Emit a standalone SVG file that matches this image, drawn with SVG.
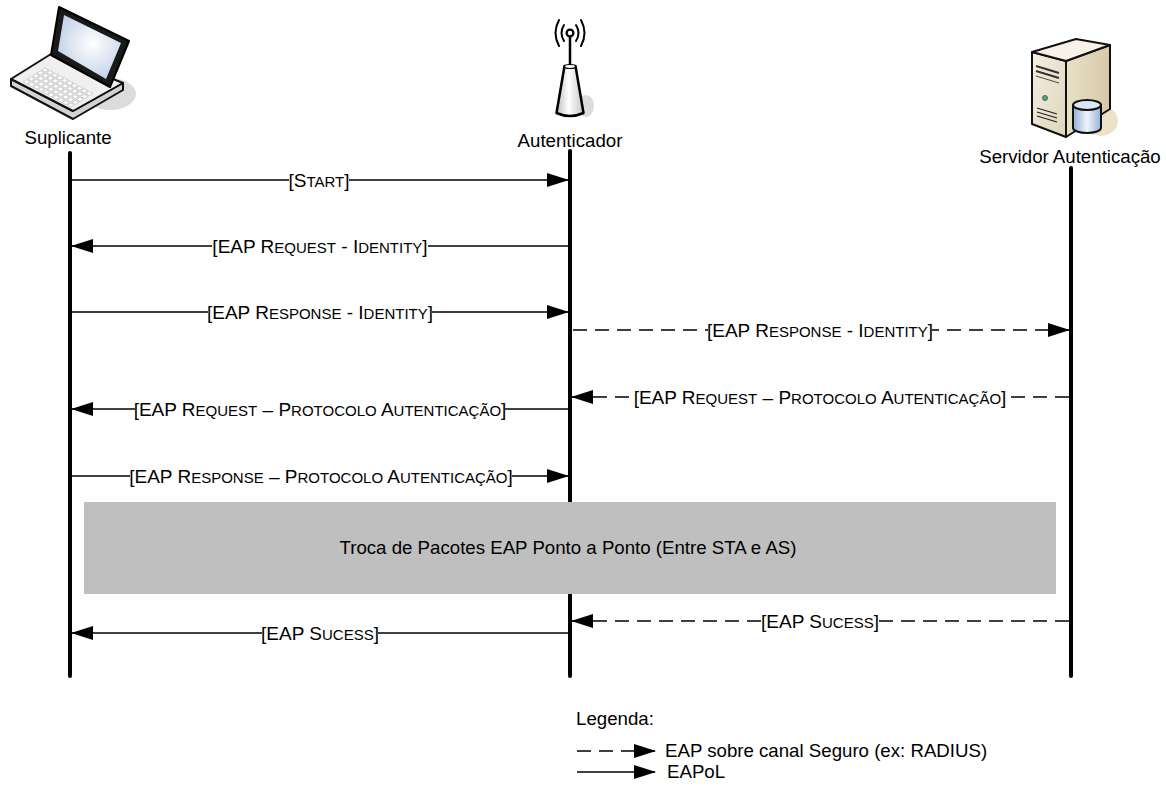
<svg xmlns="http://www.w3.org/2000/svg" width="1166" height="787" viewBox="0 0 1166 787">
  <style>
    .name { font-family: "Liberation Sans", Arial, sans-serif; font-size: 18.67px; fill: #000; }
    .lbl { font-family: "Liberation Sans", Arial, sans-serif; font-size: 19px; fill: #000; text-anchor: middle; }
    .sc { font-size: 15px; }
    .bg { fill: #fff; }
    .life { stroke: #000; stroke-width: 4; stroke-linecap: round; fill: none; }
    .msg { stroke: #000; stroke-width: 1.5; fill: none; }
    .dash { stroke-dasharray: 14 8; }
    .ink { stroke: #111; stroke-width: 2; stroke-linejoin: round; }
    .key { fill: #fff; stroke: #bdbdbd; stroke-width: 0.12; }
  </style>
  <defs>
    <marker id="head" markerUnits="userSpaceOnUse" markerWidth="22" markerHeight="14" refX="21" refY="7" orient="auto">
      <path d="M0,0 L22,7 L0,14 Z" fill="#000"/>
    </marker>
    <radialGradient id="screen" cx="0.55" cy="0.45" r="0.7">
      <stop offset="0" stop-color="#ffffff"/>
      <stop offset="1" stop-color="#b7c9e2"/>
    </radialGradient>
    <linearGradient id="cone" x1="0" y1="0" x2="1" y2="0">
      <stop offset="0" stop-color="#bdbdbd"/>
      <stop offset="0.45" stop-color="#ffffff"/>
      <stop offset="1" stop-color="#c4c4c4"/>
    </linearGradient>
    <linearGradient id="front" x1="0" y1="0" x2="1" y2="1">
      <stop offset="0" stop-color="#f4efe2"/>
      <stop offset="1" stop-color="#e0d5bb"/>
    </linearGradient>
    <linearGradient id="side" x1="0" y1="0" x2="1" y2="0">
      <stop offset="0" stop-color="#e9e0c9"/>
      <stop offset="1" stop-color="#d6c9a6"/>
    </linearGradient>
    <linearGradient id="drum" x1="0" y1="0" x2="1" y2="0">
      <stop offset="0" stop-color="#8fb0d8"/>
      <stop offset="0.5" stop-color="#eef4fb"/>
      <stop offset="1" stop-color="#93b3da"/>
    </linearGradient>
    <!-- one key cap in keyboard-grid units -->
    <path id="k" d="M0.12,0.12 h0.76 v0.76 h-0.76 Z"/>
    <g id="krow">
      <use href="#k"/><use href="#k" x="1"/><use href="#k" x="2"/><use href="#k" x="3"/><use href="#k" x="4"/>
      <use href="#k" x="5"/><use href="#k" x="6"/><use href="#k" x="7"/><use href="#k" x="8"/><use href="#k" x="9"/>
    </g>
  </defs>

  <rect width="1166" height="787" fill="#fff"/>

  <!-- Suplicante: laptop -->
  <g id="suplicante">
    <ellipse cx="110" cy="94" rx="26" ry="16" fill="#dcdcdc"/>
    <!-- base -->
    <polygon points="11,86 73,119 123,90 123,83 73,111 11,79" fill="#d2d2d2" class="ink"/>
    <polygon points="11,79 51,54 123,83 73,111" fill="#f0f0f0" class="ink"/>
    <g transform="matrix(4.9 2.6 4.6 -2.95 22 82)" class="key">
      <use href="#krow"/>
      <use href="#krow" y="1"/>
      <use href="#krow" y="2"/>
      <use href="#krow" y="3"/>
      <use href="#krow" y="4"/>
    </g>
    <!-- lid -->
    <polygon points="51,55 59,7 129,41 110,87" fill="#1a1a1a" stroke="#000" stroke-width="2" stroke-linejoin="round"/>
    <polygon points="58,51 64,15 121,43 106,79" fill="url(#screen)"/>
    <text class="name" x="68" y="144" text-anchor="middle">Suplicante</text>
  </g>

  <!-- Autenticador: access point -->
  <g id="autenticador">
    <ellipse cx="586" cy="106" rx="8" ry="11" fill="#dddddd"/>
    <path d="M564,25 Q559,33 564,41 M559,20 Q552,33 559,46 M576,25 Q581,33 576,41 M581,20 Q588,33 581,46" fill="none" stroke="#000" stroke-width="2" stroke-linecap="round"/>
    <line x1="570" y1="36" x2="570" y2="67" stroke="#000" stroke-width="2.5"/>
    <circle cx="570" cy="33" r="3.4" fill="#fff" stroke="#000" stroke-width="2.3"/>
    <path d="M564.5,66 L575.5,66 L583.5,113 Q570,119 556.5,113 Z" fill="url(#cone)" stroke="#000" stroke-width="2.5" stroke-linejoin="round"/>
    <ellipse cx="570" cy="66.5" rx="5.5" ry="2" fill="#fff" stroke="#000" stroke-width="1.2"/>
    <text class="name" x="570" y="147" text-anchor="middle">Autenticador</text>
  </g>

  <!-- Servidor Autenticação: server with database -->
  <g id="servidor">
    <ellipse cx="1101" cy="121" rx="17" ry="15" fill="#ebe2c8"/>
    <polygon points="1066,61 1110,45 1110,109 1066,137" fill="url(#side)" class="ink"/>
    <polygon points="1032,52 1066,61 1066,137 1032,124" fill="url(#front)" class="ink"/>
    <polygon points="1032,52 1076,39 1110,45 1066,61" fill="#f6f2e8" class="ink"/>
    <path d="M1036,66 L1059,73 M1036,71 L1059,78" stroke="#333" stroke-width="2"/>
    <path d="M1036,76 L1059,83" stroke="#555" stroke-width="1.2"/>
    <circle cx="1045" cy="98" r="2.5" fill="#5aa58a" stroke="#2d5a4a" stroke-width="0.8"/>
    <path d="M1037,108 L1057,114 M1037,112 L1057,118 M1037,116 L1057,122" stroke="#222" stroke-width="1.3"/>
    <path d="M1073,105 L1073,128 A14,5 0 0 0 1101,128 L1101,105 Z" fill="url(#drum)" class="ink"/>
    <ellipse cx="1087" cy="105" rx="14" ry="5" fill="#dbe7f5" class="ink"/>
    <text class="name" x="1070" y="163" text-anchor="middle">Servidor Autenticação</text>
  </g>

  <!-- lifelines -->
  <g id="lifelines">
    <line class="life" x1="70" y1="153" x2="70" y2="676"/>
    <line class="life" x1="570" y1="151" x2="570" y2="676"/>
    <line class="life" x1="1071" y1="168" x2="1071" y2="676"/>
  </g>

  <!-- exchange block -->
  <g id="troca">
    <rect x="84" y="502" width="972" height="92" fill="#bfbfbf"/>
    <text class="name" x="568" y="554" text-anchor="middle">Troca de Pacotes EAP Ponto a Ponto (Entre STA e AS)</text>
  </g>

  <!-- messages -->
  <g id="connectors">
    <line class="msg" x1="72" y1="180" x2="568" y2="180" marker-end="url(#head)"/>
    <line class="msg" x1="568" y1="246" x2="72" y2="246" marker-end="url(#head)"/>
    <line class="msg" x1="72" y1="312" x2="568" y2="312" marker-end="url(#head)"/>
    <line class="msg dash" x1="573" y1="330" x2="1069" y2="330" marker-end="url(#head)"/>
    <line class="msg dash" x1="1069" y1="397" x2="572" y2="397" marker-end="url(#head)"/>
    <line class="msg" x1="568" y1="409" x2="72" y2="409" marker-end="url(#head)"/>
    <line class="msg" x1="72" y1="476" x2="568" y2="476" marker-end="url(#head)"/>
    <line class="msg dash" x1="1069" y1="621" x2="572" y2="621" marker-end="url(#head)"/>
    <line class="msg" x1="568" y1="633" x2="72" y2="633" marker-end="url(#head)"/>

    <!-- label backings break the line under each label -->
    <rect class="bg" x="289" y="171" width="60" height="18"/>
    <rect class="bg" x="212" y="237" width="216" height="18"/>
    <rect class="bg" x="208" y="303" width="224" height="18"/>
    <rect class="bg" x="708" y="321" width="224" height="18"/>
    <rect class="bg" x="635" y="388" width="370" height="18"/>
    <rect class="bg" x="135" y="400" width="370" height="18"/>
    <rect class="bg" x="130" y="467" width="382" height="18"/>
    <rect class="bg" x="762" y="612" width="116" height="18"/>
    <rect class="bg" x="262" y="624" width="116" height="18"/>

    <text class="lbl" x="319" y="187">[S<tspan class="sc">TART</tspan>]</text>
    <text class="lbl" x="320" y="253">[EAP R<tspan class="sc">EQUEST</tspan> - I<tspan class="sc">DENTITY</tspan>]</text>
    <text class="lbl" x="320" y="319">[EAP R<tspan class="sc">ESPONSE</tspan> - I<tspan class="sc">DENTITY</tspan>]</text>
    <text class="lbl" x="820" y="337">[EAP R<tspan class="sc">ESPONSE</tspan> - I<tspan class="sc">DENTITY</tspan>]</text>
    <text class="lbl" x="820" y="404">[EAP R<tspan class="sc">EQUEST</tspan> – P<tspan class="sc">ROTOCOLO</tspan> A<tspan class="sc">UTENTICAÇÃO</tspan>]</text>
    <text class="lbl" x="320" y="416">[EAP R<tspan class="sc">EQUEST</tspan> – P<tspan class="sc">ROTOCOLO</tspan> A<tspan class="sc">UTENTICAÇÃO</tspan>]</text>
    <text class="lbl" x="321" y="483">[EAP R<tspan class="sc">ESPONSE</tspan> – P<tspan class="sc">ROTOCOLO</tspan> A<tspan class="sc">UTENTICAÇÃO</tspan>]</text>
    <text class="lbl" x="820" y="628">[EAP S<tspan class="sc">UCESS</tspan>]</text>
    <text class="lbl" x="320" y="640">[EAP S<tspan class="sc">UCESS</tspan>]</text>
  </g>

  <!-- legend -->
  <g id="legenda">
    <text class="name" x="576" y="725">Legenda:</text>
    <line class="msg dash" x1="577" y1="751" x2="655" y2="751" marker-end="url(#head)"/>
    <text class="name" x="665" y="757">EAP sobre canal Seguro (ex: RADIUS)</text>
    <line class="msg" x1="577" y1="772" x2="655" y2="772" marker-end="url(#head)"/>
    <text class="name" x="667" y="778">EAPoL</text>
  </g>
</svg>
